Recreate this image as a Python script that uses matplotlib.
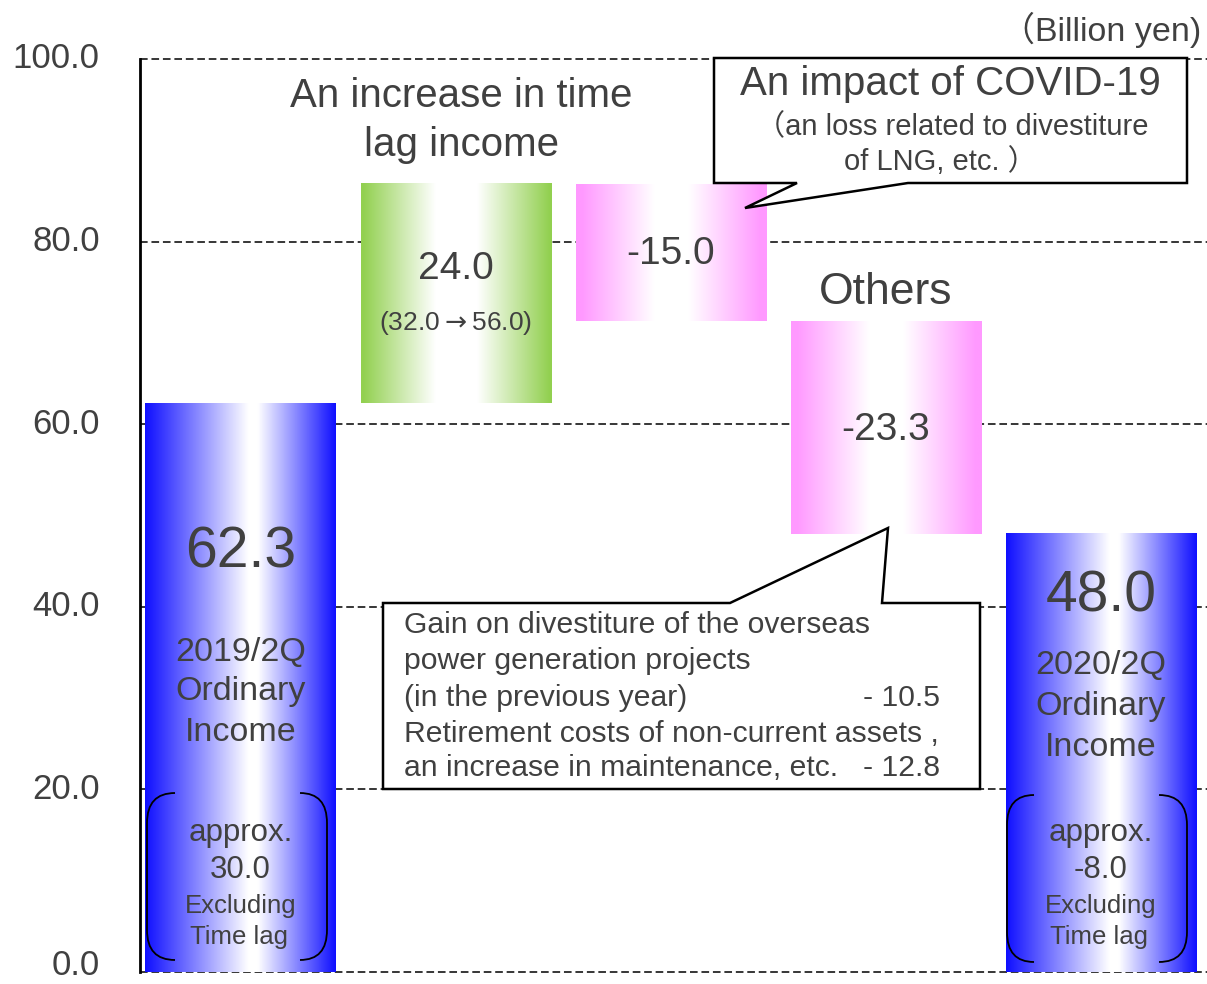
import numpy as np
import matplotlib
matplotlib.use("Agg")
import matplotlib.pyplot as plt
import matplotlib.transforms as mtransforms
from matplotlib.path import Path
from matplotlib.patches import PathPatch, Polygon

# ---- data -------------------------------------------------------------
steps = ["2019/2Q", "Time lag", "COVID-19", "Others", "2020/2Q"]
start_value = 62.3
deltas = [24.0, -15.0, -23.3]
end_value = 48.0
excl_time_lag = ["30.0", "-8.0"]
time_lag_range = ("32.0", "56.0")
yticks = [0, 20, 40, 60, 80, 100]
others_items = [("Gain on divestiture of the overseas\npower generation projects\n(in the previous year)", "- 10.5"),
                ("Retirement costs of non-current assets ,\nan increase in maintenance, etc.", "- 12.8")]

# ---- styling ----------------------------------------------------------
W, H = 1207, 984
FONT = ["Liberation Sans", "Noto Sans CJK JP", "DejaVu Sans"]
TXT = "#404040"
BLUE = np.array([0.06, 0.06, 1.0])
GREEN = np.array([0.573, 0.816, 0.314])
PINK = np.array([1.0, 0.6, 1.0])
plt.rcParams["font.family"] = FONT
plt.rcParams["mathtext.fontset"] = "dejavusans"

fig = plt.figure(figsize=(W / 100, H / 100), dpi=100)
ax = fig.add_axes([140 / W, 12 / H, 1067 / W, 913 / H])
PX = mtransforms.Affine2D().scale(1 / W, -1 / H).translate(0, 1) + fig.transFigure

# waterfall geometry
bottoms, heights = [0.0], [start_value]
level = start_value
for d in deltas:
    top = level + d
    bottoms.append(min(level, top))
    heights.append(abs(d))
    level = top
bottoms.append(0.0)
heights.append(end_value)

xpos = np.arange(len(steps))
bar_w = 0.885
bars = ax.bar(xpos, heights, bottom=bottoms, width=bar_w, color="none", edgecolor="none", zorder=2)


def gradient(edge, peak, plateau, edge_sat, n=256):
    t = np.linspace(0, 1, n)
    d = np.where(t < peak, (peak - t) / peak, (t - peak) / (1 - peak))
    w = np.clip((1 - d - edge_sat) / (1 - plateau - edge_sat), 0, 1)
    rgb = edge[None, :] * (1 - w[:, None]) + w[:, None]
    return rgb[None, :, :]


styles = [(BLUE, 0.57, 0.05, 0.0), (GREEN, 0.5, 0.22, 0.02), (PINK, 0.5, 0.18, 0.06),
          (PINK, 0.5, 0.18, 0.06), (BLUE, 0.57, 0.05, 0.0)]
for rect, (c, pk, pl, es) in zip(bars, styles):
    x0, y0 = rect.get_x(), rect.get_y()
    ax.imshow(gradient(c, pk, pl, es), extent=(x0, x0 + rect.get_width(), y0, y0 + rect.get_height()),
              aspect="auto", interpolation="bilinear", zorder=2)

ax.set_xlim(-0.468, 4.493)
ax.set_ylim(0, 100)

# gridlines and axis
for yv in yticks:
    ax.axhline(yv, color="black", lw=1.1, ls=(0, (5, 2.5)), zorder=1, clip_on=False)
for s in ["top", "right", "bottom"]:
    ax.spines[s].set_visible(False)
ax.spines["left"].set_linewidth(2)
ax.spines["left"].set_zorder(5)
ax.set_xticks([])
ax.set_yticks(yticks)
ax.set_yticklabels([f"{v:.1f}" for v in yticks], fontsize=25, color=TXT, va="center")
ax.tick_params(axis="y", length=0, pad=29)
# lift the lowest label slightly so it stays inside the canvas
lowest = ax.get_yticklabels()[0]
lowest.set_transform(lowest.get_transform() + mtransforms.ScaledTranslation(0, 5 / 72, fig.dpi_scale_trans))

# labels inside the bars
ax.text(0, 45.9, f"{start_value:.1f}", ha="center", va="center", fontsize=41, color=TXT, zorder=4)
ax.text(4, 41.1, f"{end_value:.1f}", ha="center", va="center", fontsize=41, color=TXT, zorder=4)
for i, (period, yl) in enumerate([(steps[0], [35.0, 30.7, 26.2]), (steps[-1], [33.6, 29.1, 24.6])]):
    xi = 0 if i == 0 else 4
    for txt, yv in zip([period, "Ordinary", "Income"], yl):
        ax.text(xi, yv, txt, ha="center", va="center", fontsize=24.5, color=TXT, zorder=4)
    ax.text(xi, 15.2, "approx.", ha="center", va="center", fontsize=22.5, color=TXT, zorder=4)
    ax.text(xi, 11.2, excl_time_lag[i], ha="center", va="center", fontsize=22.5, color=TXT, zorder=4)
    ax.text(xi, 7.2, "Excluding", ha="center", va="center", fontsize=18.5, color=TXT, zorder=4)
    ax.text(xi - 0.01, 3.8, "Time lag", ha="center", va="center", fontsize=18.5, color=TXT, zorder=4)

ax.text(1, 77.0, f"{deltas[0]:.1f}", ha="center", va="center", fontsize=28, color=TXT, zorder=4)
ax.text(1, 71.1, f"({time_lag_range[0]}$\\rightarrow${time_lag_range[1]})", ha="center", va="center",
        fontsize=19, color=TXT, zorder=4)
ax.text(2, 78.6, f"{deltas[1]:.1f}", ha="center", va="center", fontsize=28, color=TXT, zorder=4)
ax.text(3, 59.4, f"{deltas[2]:.1f}", ha="center", va="center", fontsize=28, color=TXT, zorder=4)


# brackets around the "excluding time lag" figures
def bracket(x_end, x_edge, y_top, y_bot, r=30):
    verts = [(x_end, y_top), (x_edge, y_top), (x_edge, y_top + r), (x_edge, y_bot - r),
             (x_edge, y_bot), (x_end, y_bot)]
    codes = [Path.MOVETO, Path.CURVE3, Path.CURVE3, Path.LINETO, Path.CURVE3, Path.CURVE3]
    fig.add_artist(PathPatch(Path(verts, codes), transform=PX, fill=False, lw=1.3, ec="black", zorder=6))


bracket(175, 147, 793, 960)
bracket(300, 327, 793, 960)
bracket(1034, 1007, 795, 962)
bracket(1159, 1187, 795, 962)

# headings and callouts
fig.text(1201, 30, "\uff08Billion yen)", transform=PX, ha="right", va="center", fontsize=24.5, color=TXT)
fig.text(461, 96, "An increase in time", transform=PX, ha="center", va="center", fontsize=29, color=TXT)
fig.text(461, 145, "lag income", transform=PX, ha="center", va="center", fontsize=29, color=TXT)
fig.text(886, 292, "Others", transform=PX, ha="center", va="center", fontsize=32, color=TXT)

covid = [(714, 58), (1187, 58), (1187, 183), (908, 183), (745, 208), (797, 183), (714, 183)]
fig.add_artist(Polygon(covid, closed=True, transform=PX, fc="white", ec="black", lw=1.8, zorder=3))
fig.text(950, 84, "An impact of COVID-19", transform=PX, ha="center", va="center", fontsize=29, color=TXT, zorder=7)
fig.text(952, 127, "\uff08an loss related to divestiture", transform=PX, ha="center", va="center",
         fontsize=21, color=TXT, zorder=7)
fig.text(940, 162, "of LNG, etc. \uff09", transform=PX, ha="center", va="center", fontsize=21, color=TXT, zorder=7)

others = [(383, 603), (730, 603), (888, 528), (882, 603), (980, 603), (980, 789), (383, 789)]
fig.add_artist(Polygon(others, closed=True, transform=PX, fc="white", ec="black", lw=1.8, zorder=3))
line_y = [625, 661, 698, 734, 768]
lines = []
for label, amount in others_items:
    parts = label.split("\n")
    for j, p in enumerate(parts):
        lines.append((p, amount if j == len(parts) - 1 else None))
for (txt, amt), yv in zip(lines, line_y):
    fig.text(404, yv, txt, transform=PX, ha="left", va="center", fontsize=21.7, color=TXT, zorder=7)
    if amt:
        fig.text(940, yv, amt, transform=PX, ha="right", va="center", fontsize=21.7, color=TXT, zorder=7)

fig.savefig("out.png", dpi=100)
